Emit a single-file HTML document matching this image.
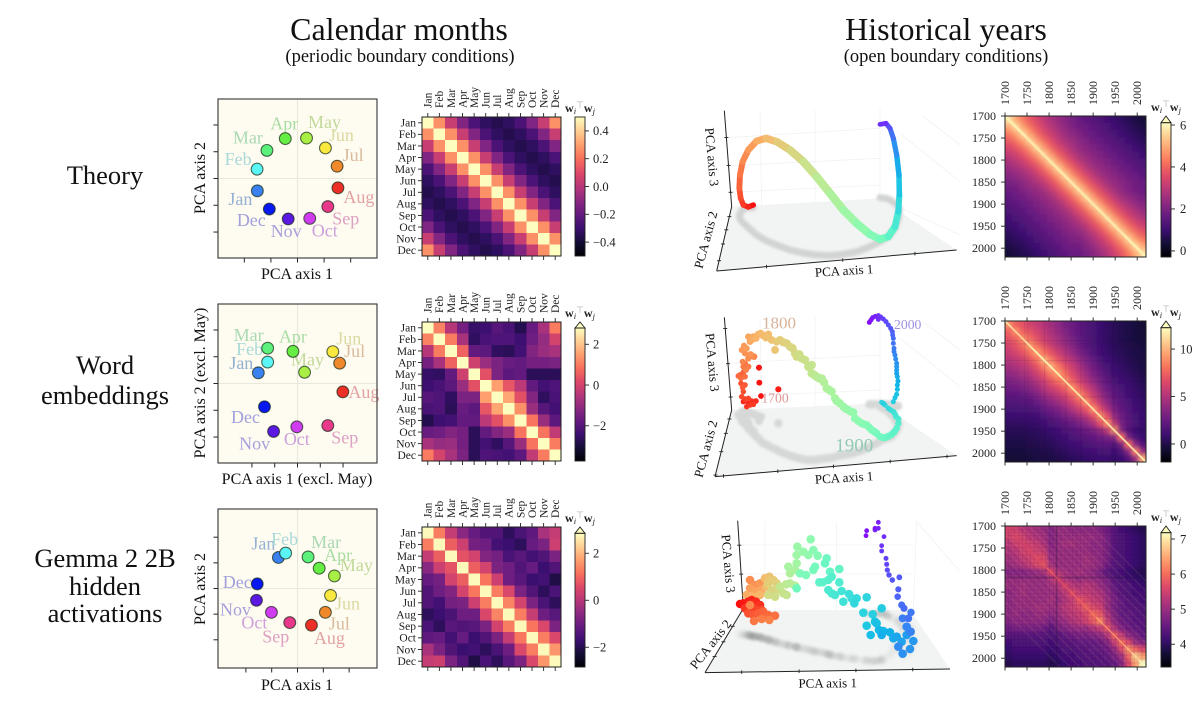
<!DOCTYPE html>
<html lang="en">
<head>
<meta charset="utf-8">
<title>Calendar months and historical years PCA figure</title>
<style>
html,body{margin:0;padding:0;background:#fff;}
svg{display:block;font-family:"Liberation Serif","DejaVu Serif",serif;fill:#111;}
</style>
</head>
<body>
<svg id="fig" xmlns="http://www.w3.org/2000/svg" width="1200" height="701" viewBox="0 0 1200 701">
<defs>
<linearGradient id="magmaBar" x1="0" y1="1" x2="0" y2="0">
<stop offset="0" stop-color="#000004"/><stop offset=".1" stop-color="#140e36"/><stop offset=".2" stop-color="#3b0f70"/><stop offset=".3" stop-color="#641a80"/><stop offset=".4" stop-color="#8c2981"/><stop offset=".5" stop-color="#b73779"/><stop offset=".6" stop-color="#de4968"/><stop offset=".7" stop-color="#f7705c"/><stop offset=".8" stop-color="#fe9f6d"/><stop offset=".9" stop-color="#fecf92"/><stop offset="1" stop-color="#fcfdbf"/>
</linearGradient>
<filter id="soft" x="-30%" y="-30%" width="160%" height="160%"><feGaussianBlur stdDeviation="1.2"/></filter>
<filter id="softLine" filterUnits="userSpaceOnUse" x="990" y="100" width="170" height="170"><feGaussianBlur stdDeviation="0.8"/></filter>
</defs>
<rect x="0" y="0" width="1200" height="701" fill="#fff"/>

<text x="399" y="40" font-size="32" text-anchor="middle">Calendar months</text>
<text x="400" y="62" font-size="18.5" text-anchor="middle">(periodic boundary conditions)</text>
<text x="946" y="40" font-size="32" text-anchor="middle">Historical years</text>
<text x="946" y="62" font-size="18.5" text-anchor="middle">(open boundary conditions)</text>

<text x="105" y="184" font-size="26.5" text-anchor="middle">Theory</text>
<text font-size="26.5" text-anchor="middle"><tspan x="105" y="374">Word</tspan><tspan x="105" y="404">embeddings</tspan></text>
<text font-size="26.5" text-anchor="middle"><tspan x="105" y="567">Gemma 2 2B</tspan><tspan x="105" y="595">hidden</tspan><tspan x="105" y="622">activations</tspan></text>

<text x="297" y="279" font-size="16" text-anchor="middle">PCA axis 1</text>
<text transform="translate(205 178) rotate(-90)" font-size="16" text-anchor="middle">PCA axis 2</text>
<text x="297" y="484" font-size="16" text-anchor="middle">PCA axis 1 (excl. May)</text>
<text transform="translate(205 383) rotate(-90)" font-size="16" text-anchor="middle">PCA axis 2 (excl. May)</text>
<text x="297" y="690" font-size="16" text-anchor="middle">PCA axis 1</text>
<text transform="translate(205 589) rotate(-90)" font-size="16" text-anchor="middle">PCA axis 2</text>

<g id="layer"></g>

<text transform="translate(844.3 275) rotate(-3.5)" font-size="13" text-anchor="middle">PCA axis 1</text>
<text transform="translate(710 241) rotate(-75)" font-size="13" text-anchor="middle">PCA axis 2</text>
<text transform="translate(707.5 157.3) rotate(85)" font-size="13" text-anchor="middle">PCA axis 3</text>
<text transform="translate(844.3 482) rotate(-3.5)" font-size="13" text-anchor="middle">PCA axis 1</text>
<text transform="translate(710 450) rotate(-75)" font-size="13" text-anchor="middle">PCA axis 2</text>
<text transform="translate(708 362.7) rotate(85)" font-size="13" text-anchor="middle">PCA axis 3</text>
<text transform="translate(827.7 687.5) rotate(-0.5)" font-size="13" text-anchor="middle">PCA axis 1</text>
<text transform="translate(714 647) rotate(-52)" font-size="13" text-anchor="middle">PCA axis 2</text>
<text transform="translate(724 564) rotate(85)" font-size="13" text-anchor="middle">PCA axis 3</text>

<text x="779" y="328.5" font-size="17" fill="#d9b29a" text-anchor="middle">1800</text>
<text x="907.7" y="328.8" font-size="13.7" fill="#9d92e0" text-anchor="middle">2000</text>
<text x="775" y="402.5" font-size="13.7" fill="#df9595" text-anchor="middle">1700</text>
<text x="854.3" y="451.5" font-size="19" fill="#92c9b2" text-anchor="middle">1900</text>
</svg>

<script>
/* ---------- Month data ---------- */
const monthNames = ['Jan','Feb','Mar','Apr','May','Jun','Jul','Aug','Sep','Oct','Nov','Dec'];

const theoryPc1 = [-1.51,-1.52,-1.15,-0.46,0.34,1.05,1.49,1.52,1.14,0.46,-0.35,-1.06];
const theoryPc2 = [-0.46,0.35,1.05,1.49,1.51,1.14,0.46,-0.35,-1.05,-1.49,-1.51,-1.14];
const wordPc1 = [-1.72,-1.31,-1.31,-0.20,0.31,1.55,1.85,1.99,1.33,-0.03,-1.05,-1.45];
const wordPc2 = [0.40,0.80,1.32,1.20,0.42,1.19,0.76,-0.31,-1.57,-1.62,-1.79,-0.87];
const gemmaPc1 = [-0.74,-0.46,0.41,0.84,1.43,1.28,1.08,0.54,-0.30,-1.01,-1.59,-1.56];
const gemmaPc2 = [1.21,1.38,1.23,0.79,0.49,-0.27,-0.93,-1.43,-1.33,-0.93,-0.46,0.18];

const theoryMonthMatrix = [
[.5,.27,.04,-.13,-.26,-.33,-.36,-.33,-.26,-.13,.04,.27],
[.27,.5,.27,.04,-.13,-.26,-.33,-.36,-.33,-.26,-.13,.04],
[.04,.27,.5,.27,.04,-.13,-.26,-.33,-.36,-.33,-.26,-.13],
[-.13,.04,.27,.5,.27,.04,-.13,-.26,-.33,-.36,-.33,-.26],
[-.26,-.13,.04,.27,.5,.27,.04,-.13,-.26,-.33,-.36,-.33],
[-.33,-.26,-.13,.04,.27,.5,.27,.04,-.13,-.26,-.33,-.36],
[-.36,-.33,-.26,-.13,.04,.27,.5,.27,.04,-.13,-.26,-.33],
[-.33,-.36,-.33,-.26,-.13,.04,.27,.5,.27,.04,-.13,-.26],
[-.26,-.33,-.36,-.33,-.26,-.13,.04,.27,.5,.27,.04,-.13],
[-.13,-.26,-.33,-.36,-.33,-.26,-.13,.04,.27,.5,.27,.04],
[.04,-.13,-.26,-.33,-.36,-.33,-.26,-.13,.04,.27,.5,.27],
[.27,.04,-.13,-.26,-.33,-.36,-.33,-.26,-.13,.04,.27,.5]];

const wordMonthMatrix = [
[2.8,1.1,-.5,-1.5,-2.5,-2.4,-2,-2.2,-2.8,-1.7,-.7,1],
[1.1,2.8,1,-.7,-2.6,-2.2,-2.1,-2.1,-2.4,-1.6,-1,0],
[-.5,1,2.8,.6,-1.8,-1.9,-2.6,-2.7,-2.3,-1.3,-.9,-.7],
[-1.5,-.7,.6,2.8,-.1,-.9,-1.4,-1.7,-1.8,-1.5,-1.5,-1.4],
[-2.5,-2.6,-1.8,-.1,2.8,.3,-1.4,-1.9,-1.8,-2.7,-2.7,-2.7],
[-2.4,-2.2,-1.9,-.9,.3,2.8,1.5,.4,-.4,-1.8,-2.3,-2.1],
[-2,-2.1,-2.6,-1.4,-1.4,1.5,2.8,1.6,.3,-1.3,-2.6,-2.2],
[-2.2,-2.1,-2.7,-1.7,-1.9,.4,1.6,2.8,1.3,-.9,-2,-2.3],
[-2.8,-2.4,-2.3,-1.8,-1.8,-.4,.3,1.3,2.8,.9,-.9,-1.9],
[-1.7,-1.6,-1.3,-1.5,-2.7,-1.8,-1.3,-.9,.9,2.8,.9,-.3],
[-.7,-1,-.9,-1.5,-2.7,-2.3,-2.6,-2,-.9,.9,2.8,1],
[1,0,-.7,-1.4,-2.7,-2.1,-2.2,-2.3,-1.9,-.3,1,2.8]];

const gemmaMonthMatrix = [
[2.8,1.3,.2,-.6,-1.1,-1.4,-1.4,-1.9,-1.5,-1.2,-.2,.2],
[1.3,2.8,.9,.3,-.9,-1,-1.6,-1.7,-1.9,-1.1,-.8,.3],
[.2,.9,2.8,.7,.4,-.7,-.9,-1.5,-1.3,-1.6,-1.4,-.8],
[-.6,.3,.7,2.8,.9,.4,-.8,-1,-1.4,-1.1,-1.7,-1.4],
[-1.1,-.9,.4,.9,2.8,1.2,.3,-1,-1.3,-1.7,-1.6,-2.1],
[-1.4,-1,-.7,.4,1.2,2.8,1.3,.5,-.8,-1.4,-1.9,-1.5],
[-1.4,-1.6,-.9,-.8,.3,1.3,2.8,1.4,.4,-.8,-1.5,-1.9],
[-1.9,-1.7,-1.5,-1,-1,.5,1.4,2.8,1.3,.2,-1,-1.3],
[-1.5,-1.9,-1.3,-1.4,-1.3,-.8,.4,1.3,2.8,1.2,.5,-.8],
[-1.2,-1.1,-1.6,-1.1,-1.7,-1.4,-.8,.2,1.2,2.8,1.3,.5],
[-.2,-.8,-1.4,-1.7,-1.6,-1.9,-1.5,-1,.5,1.3,2.8,1.6],
[.2,.3,-.8,-1.4,-2.1,-1.5,-1.9,-1.3,-.8,.5,1.6,2.8]];

/* ---------- Year heatmap data (upper triangle per 16-year bin) ---------- */
const yearBinEdges = [1700,1716,1732,1748,1764,1780,1796,1812,1828,1844,1860,1876,1892,1908,1924,1940,1956,1972,1988,2004,2020];
const yearTicks = [1700,1750,1800,1850,1900,1950,2000];

const theoryYearUpper = [
[5.8,4.9,4.3,3.8,3.4,3,2.7,2.4,2.15,1.9,1.7,1.55,1.4,1.25,1.1,.95,.8,.65,.5,.35],
[5.8,4.8,4.2,3.7,3.3,2.9,2.6,2.3,2.05,1.85,1.7,1.55,1.4,1.25,1.1,.95,.8,.65,.5],
[5.7,4.8,4.1,3.6,3.2,2.8,2.5,2.25,2.05,1.8,1.65,1.5,1.35,1.2,1.05,.9,.75,.6],
[5.7,4.7,4.1,3.6,3.1,2.7,2.5,2.25,2,1.8,1.65,1.5,1.35,1.2,1.05,.9,.75],
[5.7,4.7,4,3.5,3.1,2.7,2.4,2.2,2,1.8,1.65,1.5,1.35,1.2,1.05,.9],
[5.7,4.7,4,3.5,3,2.6,2.4,2.2,2,1.8,1.65,1.5,1.35,1.2,1.05],
[5.7,4.7,4,3.5,3,2.6,2.4,2.2,2,1.8,1.65,1.5,1.35,1.2],
[5.7,4.7,4,3.5,3,2.6,2.4,2.2,2,1.8,1.65,1.5,1.35],
[5.7,4.7,4,3.5,3,2.6,2.4,2.2,2,1.85,1.7,1.55],
[5.7,4.7,4,3.5,3,2.6,2.4,2.2,2,1.85,1.7],
[5.7,4.7,4,3.5,3,2.6,2.3,2.05,1.85,1.7],
[5.7,4.7,4,3.5,3,2.6,2.35,2.1,1.9],
[5.7,4.7,4,3.5,3,2.7,2.4,2.15],
[5.7,4.7,4,3.5,3.05,2.75,2.45],
[5.7,4.7,4,3.55,3.1,2.8],
[5.7,4.7,4.05,3.6,3.2],
[5.7,4.75,4.1,3.7],
[5.7,4.8,4.2],
[5.8,4.9],
[5.8]];
const theoryYearDiagonal = [6,6,6,5.9,5.9,5.9,5.9,5.9,5.9,5.9,5.9,5.9,5.9,5.9,5.9,5.9,5.9,6,6,6];

const wordYearUpper = [
[9,7.5,6.9,6.2,5.6,5.1,4.4,3.8,3.1,2.6,2.1,1.7,1.3,.9,.6,.3,.1,-.1,-.3,-.5],
[9,7.5,6.9,6.2,5.4,4.7,4.1,3.4,2.7,2.2,1.7,1.3,.9,.6,.3,.1,-.1,-.3,-.5],
[9,7.8,6.9,5.9,5.2,4.5,3.8,3,2.3,1.8,1.4,1,.6,.3,.1,-.1,-.3,-.4],
[9.5,8,6.9,5.9,5,4.3,3.5,2.7,2,1.5,1.1,.7,.4,.2,0,-.2,-.3],
[9.5,8,6.9,5.9,5,4.1,3.2,2.4,1.7,1.2,.8,.5,.3,.1,-.1,-.2],
[10,8.3,7,5.9,5,4.1,3.1,2.3,1.6,1.1,.7,.5,.2,0,-.2],
[10,8.3,7,5.9,4.8,3.7,2.8,2,1.4,.9,.6,.4,.1,-.1],
[9.5,8,6.5,5.4,4.3,3.2,2.4,1.7,1.2,.8,.6,.3,0],
[9,7.5,6.2,5.1,4,3,2.1,1.5,1.1,.8,.5,.2],
[9,7.5,6.1,4.9,3.6,2.5,1.9,1.4,1,.7,.4],
[9,7.3,5.8,4.4,3.1,2.2,1.7,1.2,.8,.5],
[9,7,5.3,3.8,2.6,2,1.5,1,.7],
[9,6.8,4.8,3.2,2.2,1.7,1.2,.8],
[9,6.8,4,2.7,1.9,1.3,.9],
[9,5.5,2.9,2.1,1.4,.9],
[9,3.6,1.7,1.1,.7],
[8,3,1.5,.9],
[8,3.6,1.7],
[8.5,4],
[9.5]];
const wordYearDiagonal = [11.5,11,11,11.5,12,12,12,12,11.5,11.5,11.5,11.5,11.5,11.5,11.5,11.5,11.5,11.5,11.5,12];

const gemmaYearUpper = [
[5.6,5.5,5.3,5.2,5.1,5,4.8,5,5,4.9,4.9,4.9,4.9,4.8,4.6,4.4,4.2,4.1,4,3.9],
[5.7,5.5,5.3,5.2,5.1,4.8,5,5,5,5,5,5,4.9,4.7,4.4,4.3,4.2,4.1,4],
[5.6,5.5,5.4,5.2,4.8,5,5.1,5.1,5,5,4.9,4.9,4.7,4.4,4.3,4.2,4.1,4],
[5.6,5.5,5.4,4.9,5,5,5,5,5,4.9,4.9,4.7,4.4,4.3,4.2,4.1,4],
[5.7,5.6,5,5,5,5,5,5.1,5,4.9,4.7,4.4,4.3,4.2,4.1,4],
[5.8,5.1,5,5,5,5,5.1,5,4.9,4.6,4.4,4.3,4.2,4.1,4],
[5.6,5.2,5.1,5,5.1,5,4.9,4.7,4.4,4.3,4.2,4.1,4,3.9],
[5.6,5.2,5.1,5,5.1,5,4.9,4.7,4.4,4.3,4.2,4.1,4],
[5.6,5.3,5.2,5.3,5.2,5,4.8,4.5,4.4,4.3,4.2,4.1],
[5.7,5.4,5.4,5.3,5.2,4.9,4.6,4.4,4.3,4.2,4.2],
[5.8,5.6,5.4,5.3,5,4.7,4.5,4.4,4.3,4.2],
[5.9,5.6,5.5,5,4.7,4.5,4.4,4.4,4.3],
[6,5.8,5.2,4.8,4.5,4.5,4.4,4.3],
[6.2,5.4,4.9,4.6,4.5,4.4,4.4],
[5.8,5.2,4.8,4.6,4.5,4.4],
[5.9,5.4,4.9,4.7,4.5],
[6,5.6,5,4.8],
[6.3,5.9,5.6],
[6.8,6.4],
[7.2]];
const gemmaYearDiagonal = [5.5,5.5,5.5,5.6,5.7,5.7,5.9,5.7,5.7,5.9,5.9,6,6.1,6.5,6.4,6.4,6.5,6.7,6.9,7.2];

const wordDarkYears = [1745,1752,1790,1838,1872,1921,1945,1948];
const gemmaDarkYears = [1708,1714,1722,1731,1740,1749,1757,1766,1775,1784,1792,1801,1810,1827,1836,1845,1853,1862,1871,1880,1888,1897,1906,1915,1923,1932,1941,1950,1958,1967,1976,1985,1993,2002,2011];
const gemmaBandYears = [1817];
const gemmaStreakLags = [18,36,54,72,90,110,130,150,172,195];

/* ---------- 3D trajectories: floor position (axis 1, axis 2) and height (axis 3) ---------- */
const theoryAxis1 = [220,205,190,182,178,180,188,205,230,258,290,330,370,410,450,490,530,570,600,625,645,655,658,657,650,640,630,618,600];
const theoryAxis2 = [338,338,342,352,362,372,382,398,420,437,450,465,474,480,482,478,470,455,440,425,400,370,345,340,330,322,315,310,308];
const theoryAxis3 = [8,2,12,42,82,132,182,233,282,307,310,300,274,235,187,133,85,37,7,0,5,20,45,100,150,192,215,225,220];

const wordAxis1 = [243,238,237,295,205,190,215,228,200,210,220,195,205,
185,190,183,195,188,180,190,175,183,195,
195,190,205,198,188,
222,205,195,212,185,192,200,210,205,220,
215,235,228,250,242,265,258,275,285,290,
300,310,320,330,338,345,350,358,365,375,
385,395,395,403,410,418,425,432,440,448,
455,465,470,480,490,498,505,512,520,525,
535,545,553,560,568,575,583,590,600,
608,615,625,635,643,650,655,655,648,645,
640,632,625,615,605,610,640,645,650,652,
652,654,652,650,650,650,650,647,645,642,
642,640,640,638,637,632,625,618,610,602,
595,595,586,578,573,568];
const wordAxis2 = [365,372,378,385,352,348,356,360,352,355,358,350,352,
352,356,358,362,358,362,368,360,360,366,
375,372,382,376,372,
410,395,385,400,378,385,392,405,400,415,
410,430,425,445,438,452,448,458,462,464,
470,474,478,482,484,486,488,490,492,494,
495,495,495,495,494,493,492,491,490,489,
488,486,484,482,480,479,478,476,475,473,
470,466,463,460,456,452,448,445,438,
434,432,428,425,415,405,392,385,380,372,
365,358,350,343,338,340,335,335,335,334,
334,333,333,332,332,332,332,331,331,330,
330,330,330,329,329,329,328,328,328,328,
328,328,328,328,328,328];
const wordAxis3 = [62,109,160,102,27,28,38,42,17,25,30,38,42,
47,66,93,92,80,122,136,117,110,121,
170,157,167,151,172,
225,205,210,222,213,233,232,265,275,290,
275,312,295,323,323,334,320,323,297,324,
335,332,333,327,324,311,303,312,302,299,
280,285,260,255,249,243,242,229,210,204,
198,176,166,157,145,137,133,126,123,103,
92,81,75,70,58,47,38,30,13,
6,4,4,7,5,5,7,13,15,15,
15,13,10,13,16,15,15,27,37,51,
64,75,88,97,107,117,127,139,151,160,
170,185,200,209,219,229,238,248,256,262,
266,255,264,260,253,246];

const gemmaAxis1 = [180,190,205,215,228,240,195,210,225,245,205,220,235,250,265,285,222,245,268,210,
210,225,240,210,225,245,200,220,240,255,260,
268,280,265,290,275,295,265,285,310,320,300,318,
330,345,330,345,325,350,350,352,370,385,392,400,413,360,378,400,405,350,
440,435,450,478,418,428,445,455,478,445,455,465,485,490,507,515,530,523,560,
550,578,605,560,585,590,572,597,610,630,605,
640,650,665,680,700,690,668,655,680,692,
668,693,685,665,672,
653,655,658,637,627,622,620,618,605,605,612,585,595,595,585,560,558];
const gemmaAxis2 = [418,420,422,424,424,426,420,422,424,428,420,424,426,430,432,438,428,430,434,422,
420,424,426,420,422,428,418,424,428,432,434,
434,438,436,442,440,444,436,442,448,450,446,450,
452,455,452,455,450,456,456,458,462,465,466,468,470,460,462,468,470,456,
476,474,478,484,472,474,478,480,484,480,482,484,486,488,490,490,492,492,496,
496,498,498,496,498,498,498,496,494,480,490,
460,445,450,440,445,470,480,465,425,425,
410,400,405,395,395,
385,378,372,368,366,362,360,358,356,355,355,355,355,355,355,354,354];
const gemmaAxis3 = [91,95,102,109,104,96,80,77,82,83,65,64,71,80,72,76,50,58,59,92,
165,154,161,140,132,143,118,119,128,182,159,
189,183,171,177,155,159,136,137,153,150,171,182,
187,183,217,230,235,251,276,303,292,285,333,303,288,225,222,243,255,176,
286,269,248,262,210,212,223,235,222,195,187,184,198,168,193,180,182,167,189,
143,140,158,104,118,113,78,91,86,68,70,
30,20,10,20,7,8,4,10,30,15,
40,48,35,65,55,
80,95,125,113,126,137,152,168,188,203,230,250,255,273,255,247,232];

/* ---------- Layout and style (not data) ---------- */
const monthColors = ['#3a80ee','#5cf5f5','#5cf07c','#66ee44','#a8ee44','#f8e840','#f0882c','#ec3028','#e8388c','#d03cf0','#5a18e0','#0818f0'];
const monthLabelColors = ['#94b0d2','#a7d9d9','#a9d9b2','#a9dca4','#c2d99c','#dcd9a2','#d9ba9c','#e2a2a2','#dca0c2','#cda0dc','#aaa0dc','#a0a0dc'];

const SVGNS = 'http://www.w3.org/2000/svg';
const layer = document.getElementById('layer');
const defs = document.querySelector('defs');

function make(tag, attrs, parent) {
  const n = document.createElementNS(SVGNS, tag);
  for (const k in attrs) n.setAttribute(k, attrs[k]);
  (parent || layer).appendChild(n);
  return n;
}
function linear(d0, d1, r0, r1) {
  return v => r0 + (v - d0) / (d1 - d0) * (r1 - r0);
}
const magmaStops = [[0,0,4],[20,14,54],[59,15,112],[100,26,128],[140,41,129],[183,55,121],[222,73,104],[247,112,92],[254,159,109],[254,207,146],[252,253,191]];
function magma(t) {
  t = Math.max(0, Math.min(1, t)) * 10;
  const i = Math.min(9, Math.floor(t)), f = t - i, a = magmaStops[i], b = magmaStops[i + 1];
  return 'rgb(' + [0,1,2].map(k => Math.round(a[k] + (b[k] - a[k]) * f)).join(',') + ')';
}
function rainbow(t) {
  const r = Math.min(1, Math.abs(2 * t - 0.5)), g = Math.sin(Math.PI * t), b = Math.cos(Math.PI * t / 2);
  return 'rgb(' + [r, g, b].map(v => Math.round(v * 235 + 15)).join(',') + ')';
}

/* ---------- PCA scatter of months ---------- */
function drawScatter(o) {
  const g = make('g', {});
  
  
  const L = 218, R = 377, T = o.top, B = o.top + 159;
  const x = linear(-o.xHalf, o.xHalf, L, R), y = linear(-o.yHalf, o.yHalf, B, T);
  const bg = make('rect', {x: L, y: T, width: R - L, height: B - T, fill: '#fefbf0'}, g);
  
  
  const vz = make('line', {x1: x(0), x2: x(0), y1: T, y2: B, stroke: '#e9e8dc', 'stroke-width': 1.1}, g);
  
  
  const hz = make('line', {x1: L, x2: R, y1: y(0), y2: y(0), stroke: '#e9e8dc', 'stroke-width': 1.1}, g);
  
  
  [-2,-1,0,1,2].forEach(v => {
    const tx = make('line', {x1: x(v), x2: x(v), y1: B, y2: B + 4.5, stroke: '#222', 'stroke-width': 1}, g);
    
    
    const ty = make('line', {x1: L - 4.5, x2: L, y1: y(v), y2: y(v), stroke: '#222', 'stroke-width': 1}, g);
    
    
  });
  monthNames.forEach((m, i) => {
    const t = make('text', {x: x(o.pc1[i]) + o.offs[i][0], y: y(o.pc2[i]) + o.offs[i][1] + 6, 'font-size': 18, 'text-anchor': 'middle', fill: monthLabelColors[i]}, g);
    t.textContent = m;
    
    
  });
  monthNames.forEach((m, i) => {
    const c = make('circle', {cx: x(o.pc1[i]), cy: y(o.pc2[i]), r: 5.9, fill: monthColors[i], stroke: 'rgba(20,40,20,.7)', 'stroke-width': 1.1}, g);
    
    
  });
  const fr = make('rect', {x: L, y: T, width: R - L, height: B - T, fill: 'none', stroke: '#333', 'stroke-width': 1.1}, g);
  
  
}

/* ---------- Colourbar ---------- */
function drawColorbar(o) {
  const g = make('g', {});
  
  
  const x0 = o.x, x1 = o.x + 10;
  const y = linear(o.vmin, o.vmax, o.bottom, o.rectTop);
  const bar = make('rect', {x: x0, y: o.rectTop, width: 10, height: o.bottom - o.rectTop, fill: 'url(#magmaBar)'}, g);
  
  
  if (o.arrowTop !== undefined) {
    const a = make('polygon', {points: x0 + ',' + o.rectTop + ' ' + (x0 + 5) + ',' + o.arrowTop + ' ' + x1 + ',' + o.rectTop, fill: '#fcfdbf', stroke: '#222', 'stroke-width': .9}, g);
    
    
  }
  const fr = make('rect', {x: x0, y: o.rectTop, width: 10, height: o.bottom - o.rectTop, fill: 'none', stroke: '#222', 'stroke-width': .9}, g);
  
  
  o.ticks.forEach((v, i) => {
    const tk = make('line', {x1: x1, x2: x1 + 4, y1: y(v), y2: y(v), stroke: '#222', 'stroke-width': .9}, g);
    
    
    const tx = make('text', {x: x1 + o.labelGap, y: y(v) + 4.3, 'font-size': 12.5, fill: '#222'}, g);
    tx.textContent = o.tickLabels[i];
    
    
  });
  const ttl = make('text', {x: o.x + 5, y: o.titleY, 'font-size': 12, 'text-anchor': 'middle', fill: '#222'}, g);
  ttl.innerHTML = '<tspan font-weight="bold">w</tspan><tspan font-style="italic" font-size="8.5" dy="2">i</tspan><tspan font-size="9" dy="-6" fill="#aaa" font-family="DejaVu Sans">⊤</tspan><tspan font-weight="bold" dy="4">w</tspan><tspan font-style="italic" font-size="8.5" dy="2">j</tspan>';
  
  
}

/* ---------- Month heatmap ---------- */
function drawMonthHeatmap(o) {
  const g = make('g', {});
  
  
  const L = 422, W = 139, T = o.top, H = o.height, n = monthNames.length;
  const cw = W / n, ch = H / n;
  const color = v => magma((v - o.vmin) / (o.vmax - o.vmin));
  o.matrix.forEach((row, r) => row.forEach((v, c) => {
    const cell = make('rect', {x: L + c * cw, y: T + r * ch, width: cw + .3, height: ch + .3, fill: color(v), 'shape-rendering': 'crispEdges'}, g);
    
    
  }));
  monthNames.forEach((m, i) => {
    const cx = L + (i + .5) * cw, cy = T + (i + .5) * ch;
    [[cx, T - 4, cx, T], [cx, T + H, cx, T + H + 4], [L - 4, cy, L, cy]].forEach(p => {
      const tk = make('line', {x1: p[0], y1: p[1], x2: p[2], y2: p[3], stroke: '#222', 'stroke-width': .9}, g);
      
      
    });
    const yl = make('text', {x: L - 6, y: cy + 3.8, 'font-size': 11.5, 'text-anchor': 'end', fill: '#222'}, g);
    yl.textContent = m;
    
    
    const xl = make('text', {transform: 'translate(' + (cx + 3.8) + ' ' + (T - 9) + ') rotate(-90)', 'font-size': 11.5, fill: '#222'}, g);
    xl.textContent = m;
    
    
  });
  const fr = make('rect', {x: L, y: T, width: W, height: H, fill: 'none', stroke: '#222', 'stroke-width': 1}, g);
  
  
}

/* ---------- Year heatmap ---------- */
function drawYearHeatmap(o) {
  const g = make('g', {});
  
  
  const L = 1005, W = 141, T = o.top, H = 141;
  const x = linear(1700, 2020, L, L + W), y = linear(1700, 2020, T, T + H);
  const color = v => magma((v - o.vmin) / (o.vmax - o.vmin));
  const clip = make('clipPath', {id: 'clip-' + o.name}, defs);
  make('rect', {x: L, y: T, width: W, height: H}, clip);
  const filt = make('filter', {id: 'blur-' + o.name, filterUnits: 'userSpaceOnUse', x: L - 40, y: T - 40, width: W + 80, height: H + 80}, defs);
  make('feGaussianBlur', {stdDeviation: o.blur}, filt);
  const clipped = make('g', {'clip-path': 'url(#clip-' + o.name + ')'}, g);
  const cells = make('g', {filter: 'url(#blur-' + o.name + ')'}, clipped);
  const n = yearBinEdges.length - 1;
  const val = (r, c) => r <= c ? o.upper[r][c - r] : o.upper[c][r - c];
  for (let r = 0; r < n; r++) for (let c = 0; c < n; c++) {
    const x0 = x(yearBinEdges[c]) - (c === 0 ? 25 : 0), x1 = x(yearBinEdges[c + 1]) + (c === n - 1 ? 25 : .4);
    const y0 = y(yearBinEdges[r]) - (r === 0 ? 25 : 0), y1 = y(yearBinEdges[r + 1]) + (r === n - 1 ? 25 : .4);
    const cell = make('rect', {x: x0, y: y0, width: x1 - x0, height: y1 - y0, fill: color(val(r, c))}, cells);
    
    
  }
  (o.streakLags || []).forEach(lag => {
    [[x(1700 + lag), y(1700), x(2020), y(2020 - lag)], [x(1700), y(1700 + lag), x(2020 - lag), y(2020)]].forEach(p => {
      const s = make('line', {x1: p[0], y1: p[1], x2: p[2], y2: p[3], stroke: '#ffd0a0', 'stroke-width': 1.4, opacity: .09}, clipped);
      
      
    });
  });
  (o.darkYears || []).forEach(yr => {
    const a = make('line', {x1: L, x2: L + W, y1: y(yr), y2: y(yr), stroke: '#1a0a40', 'stroke-width': .8, opacity: o.darkOpacity}, clipped);
    
    
    const b = make('line', {y1: T, y2: T + H, x1: x(yr), x2: x(yr), stroke: '#1a0a40', 'stroke-width': .8, opacity: o.darkOpacity}, clipped);
    
    
  });
  (o.bandYears || []).forEach(yr => {
    const a = make('line', {x1: L, x2: L + W, y1: y(yr), y2: y(yr), stroke: '#1a0a40', 'stroke-width': 1.8, opacity: .3}, clipped);
    
    
    const b = make('line', {y1: T, y2: T + H, x1: x(yr), x2: x(yr), stroke: '#1a0a40', 'stroke-width': 1.8, opacity: .3}, clipped);
    
    
  });
  const diagGroup = make('g', o.diagSoft ? {filter: 'url(#softLine)'} : {}, clipped);
  o.diagonal.forEach((v, k) => {
    const d = make('line', {x1: x(yearBinEdges[k]), y1: y(yearBinEdges[k]), x2: x(yearBinEdges[k + 1]), y2: y(yearBinEdges[k + 1]), stroke: color(v), 'stroke-width': o.diagWidth, 'stroke-linecap': 'round'}, diagGroup);
    
    
  });
  yearTicks.forEach(yr => {
    [[x(yr), T - 3.5, x(yr), T], [x(yr), T + H, x(yr), T + H + 3.5], [L - 4, y(yr), L, y(yr)]].forEach(p => {
      const tk = make('line', {x1: p[0], y1: p[1], x2: p[2], y2: p[3], stroke: '#222', 'stroke-width': .9}, g);
      
      
    });
    const yl = make('text', {x: L - 9, y: y(yr) + 4, 'font-size': 12, 'text-anchor': 'end', fill: '#222'}, g);
    yl.textContent = yr;
    
    
    const xl = make('text', {transform: 'translate(' + (x(yr) + 4) + ' ' + (T - 11) + ') rotate(-90)', 'font-size': 12, fill: '#222'}, g);
    xl.textContent = yr;
    
    
  });
  const fr = make('rect', {x: L, y: T, width: W, height: H, fill: 'none', stroke: '#222', 'stroke-width': 1}, g);
  
  
}

/* ---------- 3D PCA panel ---------- */
function drawPanel3d(o) {
  const g = make('g', {});
  
  
  const S = 1 / 3;
  const fx = v => o.left + v * S;
  const fy = v => o.top + v * S;
  const px = a1 => fx(a1);
  const py = (a2, a3) => fy(a2 - a3);
  const fl = make('polygon', {points: o.floor.map(p => fx(p[0]) + ',' + fy(p[1])).join(' '), fill: '#f2f4f4'}, g);
  
  
  o.grid.forEach(l => {
    const gl = make('line', {x1: fx(l[0]), y1: fy(l[1]), x2: fx(l[2]), y2: fy(l[3]), stroke: '#f1f2f2', 'stroke-width': .8}, g);
    
    
  });
  const edge = (a, b, fracs, dx, dy, nm) => {
    const ln = make('line', {x1: fx(a[0]), y1: fy(a[1]), x2: fx(b[0]), y2: fy(b[1]), stroke: '#222', 'stroke-width': 1}, g);
    
    
    fracs.forEach(f => {
      const mx = a[0] + (b[0] - a[0]) * f, my = a[1] + (b[1] - a[1]) * f;
      const tk = make('line', {x1: fx(mx) - dx, y1: fy(my) - dy, x2: fx(mx) + dx, y2: fy(my) + dy, stroke: '#222', 'stroke-width': .9}, g);
      
      
    });
  };
  edge(o.vAxis[0], o.vAxis[1], o.vTicks, 2, 0, 'axis-3-line');
  edge(o.sAxis[0], o.sAxis[1], o.sTicks, 2, 0, 'axis-2-line');
  edge(o.bAxis[0], o.bAxis[1], o.bTicks, 0, 1.8, 'axis-1-line');

  const n = o.a1.length;
  const hue = i => {
    const t = i / (n - 1);
    return rainbow(t < o.midFrac ? 1 - t / o.midFrac * (1 - o.midHue) : o.midHue * (1 - t) / (1 - o.midFrac));
  };
  const depth = i => Math.max(0, Math.min(1, (o.a2[i] - o.depthMin) / (o.depthMax - o.depthMin)));

  if (o.tube) {
    const sh = make('polyline', {points: o.a1.map((v, i) => px(v) + ',' + fy(o.a2[i])).join(' '), fill: 'none', stroke: '#d2d3d3', 'stroke-width': 7, 'stroke-linecap': 'round', 'stroke-linejoin': 'round', filter: 'url(#soft)'}, g);
    
    
    for (let i = 0; i < n - 1; i++) {
      const s = make('line', {x1: px(o.a1[i]), y1: py(o.a2[i], o.a3[i]), x2: px(o.a1[i + 1]), y2: py(o.a2[i + 1], o.a3[i + 1]), stroke: hue(i), 'stroke-width': 4.8 + depth(i) * 3.5, 'stroke-linecap': 'round'}, g);
      
      
    }
  } else {
    const sg = make('g', {filter: 'url(#soft)'}, g);
    for (let i = 0; i < n; i++) {
      const s = make('circle', {cx: px(o.a1[i]), cy: fy(o.a2[i]), r: 4.2, fill: o.shadowFill, opacity: o.shadowOpacity}, sg);
      
      
    }
    const order = [];
    for (let i = o.frontCount; i < n; i++) order.push(i);
    for (let i = 0; i < o.frontCount; i++) order.push(i);
    order.forEach(i => {
      const c = make('circle', {cx: px(o.a1[i]), cy: py(o.a2[i], o.a3[i]), r: o.rMin + depth(i) * o.rSpan, fill: hue(i)}, g);
      
      
    });
  }
}

/* ---------- Assemble ---------- */
drawScatter({name: 'theory', top: 99, xHalf: 2.99, yHalf: 2.97, pc1: theoryPc1, pc2: theoryPc2,
  offs: [[-17,8],[-19,-10],[-19,-13],[-1,-15],[18,-16],[16,-13],[16,-11],[21,9],[18,12],[15,12],[-2,12],[-18,11]]});
drawScatter({name: 'word', top: 304, xHalf: 3.49, yHalf: 2.97, pc1: wordPc1, pc2: wordPc2,
  offs: [[-17,-10],[-18,-13],[-19,-13],[0,-15],[3,-13],[16,-13],[15,-12],[21,0],[17,12],[0,12],[-19,12],[-19,10]]});
drawScatter({name: 'gemma', top: 509, xHalf: 3.08, yHalf: 3.1, pc1: gemmaPc1, pc2: gemmaPc2,
  offs: [[-15,-14],[-1,-14],[18,-15],[19,-13],[22,-11],[17,8],[14,11],[18,13],[-14,14],[-17,10],[-21,9],[-20,-2]]});

drawMonthHeatmap({name: 'theory', top: 117, height: 139, matrix: theoryMonthMatrix, vmin: -.5, vmax: .5});
drawMonthHeatmap({name: 'word', top: 322, height: 139, matrix: wordMonthMatrix, vmin: -3.73, vmax: 2.8});
drawMonthHeatmap({name: 'gemma', top: 527, height: 140, matrix: gemmaMonthMatrix, vmin: -2.84, vmax: 2.85});

drawColorbar({name: 'theory-month', x: 575, rectTop: 117, bottom: 256, vmin: -.5, vmax: .5, ticks: [-.4,-.2,0,.2,.4], tickLabels: ['−0.4','−0.2','0.0','0.2','0.4'], labelGap: 8, titleY: 112});
drawColorbar({name: 'word-month', x: 575, rectTop: 328, arrowTop: 322, bottom: 461, vmin: -3.73, vmax: 2.8, ticks: [-2,0,2], tickLabels: ['−2','0','2'], labelGap: 8, titleY: 317});
drawColorbar({name: 'gemma-month', x: 575, rectTop: 533.3, arrowTop: 527, bottom: 667, vmin: -2.84, vmax: 2.85, ticks: [-2,0,2], tickLabels: ['−2','0','2'], labelGap: 8, titleY: 522});

drawYearHeatmap({name: 'theory', top: 116, vmin: -.29, vmax: 6.11, upper: theoryYearUpper, diagonal: theoryYearDiagonal, blur: 3.2, diagWidth: 2.4, diagSoft: true});
drawYearHeatmap({name: 'word', top: 321, vmin: -1.9, vmax: 12.25, upper: wordYearUpper, diagonal: wordYearDiagonal, blur: 2, diagWidth: 1.6, darkYears: wordDarkYears, darkOpacity: .12});
drawYearHeatmap({name: 'gemma', top: 526, vmin: 3.35, vmax: 7.18, upper: gemmaYearUpper, diagonal: gemmaYearDiagonal, blur: 1.6, diagWidth: 1, darkYears: gemmaDarkYears, darkOpacity: .12, bandYears: gemmaBandYears, streakLags: gemmaStreakLags});

drawColorbar({name: 'theory-year', x: 1161, rectTop: 122.7, arrowTop: 116, bottom: 257, vmin: -.29, vmax: 6.11, ticks: [0,2,4,6], tickLabels: ['0','2','4','6'], labelGap: 9, titleY: 111});
drawColorbar({name: 'word-year', x: 1161, rectTop: 327.7, arrowTop: 321, bottom: 462, vmin: -1.9, vmax: 12.25, ticks: [0,5,10], tickLabels: ['0','5','10'], labelGap: 9, titleY: 316});
drawColorbar({name: 'gemma-year', x: 1161, rectTop: 532.7, arrowTop: 526, bottom: 667, vmin: 3.35, vmax: 7.18, ticks: [4,5,6,7], tickLabels: ['4','5','6','7'], labelGap: 9, titleY: 521});

drawPanel3d({name: 'theory', left: 680, top: 95, tube: true, a1: theoryAxis1, a2: theoryAxis2, a3: theoryAxis3,
  floor: [[110,528],[830,465],[600,310],[155,335]],
  vAxis: [[133,47],[155,335]], vTicks: [.28,.57,.85],
  sAxis: [[155,335],[110,528]], sTicks: [.155,.36,.58,.84],
  bAxis: [[110,528],[830,465]], bTicks: [.208,.525,.826],
  grid: [[240,48,245,332],[405,45,405,322],[600,40,600,310],[660,115,840,260],[730,65,840,150],[600,310,840,420],[262,516,300,332],[488,497,450,320],[705,478,560,312],[140,128,600,100],[147,212,600,190],[152,292,600,270],[125,447,700,385],[137,405,650,350]],
  midFrac: .64, midHue: .47, depthMin: 308, depthMax: 482});
drawPanel3d({name: 'word', left: 680, top: 295, a1: wordAxis1, a2: wordAxis2, a3: wordAxis3,
  floor: [[105,545],[830,482],[600,325],[155,345]],
  vAxis: [[133,67],[155,345]], vTicks: [.12,.5,.86],
  sAxis: [[155,345],[105,545]], sTicks: [.135,.35,.625,.975],
  bAxis: [[105,545],[830,482]], bTicks: [.035,.26,.49,.725,.96],
  grid: [[240,70,245,342],[405,60,405,335],[600,50,600,325],[660,130,840,275],[730,80,840,165],[290,530,310,340],[460,515,430,332],[630,502,540,326],[147,205,600,180],[152,305,600,285],[125,470,700,400]],
  midFrac: .65, midHue: .47, depthMin: 330, depthMax: 495, rMin: 2.5, rSpan: 1.8, shadowFill: '#d6d7d7', shadowOpacity: 1, frontCount: 0});
drawPanel3d({name: 'gemma', left: 680, top: 495, a1: gemmaAxis1, a2: gemmaAxis2, a3: gemmaAxis3,
  floor: [[75,533],[810,522],[690,345],[190,345]],
  vAxis: [[173,77],[190,340]], vTicks: [.28,.61,.92],
  sAxis: [[190,340],[75,533]], sTicks: [.28,.52,.75],
  bAxis: [[75,533],[810,522]], bTicks: [.15,.384,.616,.848],
  grid: [[255,80,255,345],[470,80,470,345],[710,80,700,345],[185,535,240,345],[357,527,385,345],[528,523,530,345],[698,522,660,345],[130,440,740,440],[177,150,700,150],[183,237,700,237],[710,80,840,230]],
  midFrac: .48, midHue: .47, depthMin: 355, depthMax: 420, rMin: 2.4, rSpan: 1.9, shadowFill: '#666', shadowOpacity: .08, frontCount: 20});
</script>
</body>
</html>
